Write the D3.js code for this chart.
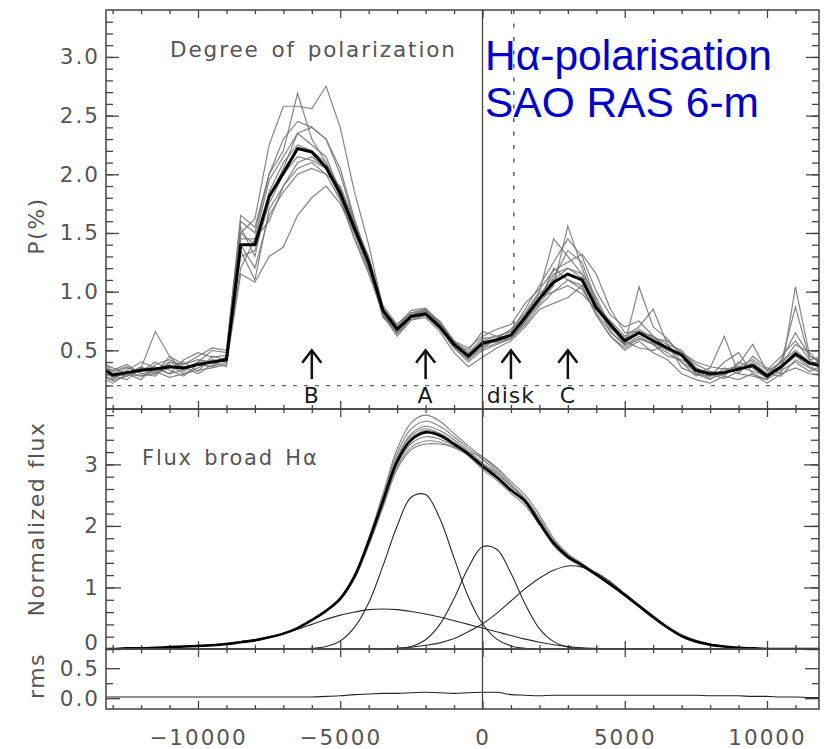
<!DOCTYPE html>
<html>
<head>
<meta charset="utf-8">
<script src="https://cdn.jsdelivr.net/npm/d3@7"></script>
<style>
  body { margin: 0; background: #fff; }
  text { font-family: "DejaVu Sans", sans-serif; }
</style>
</head>
<body>
<svg id="chart" width="824" height="749"></svg>
<script>
// velocity grid, km/s
const velocity = [-13500,-13000,-12500,-12000,-11500,-11000,-10500,-10000,-9500,-9000,
  -8500,-8000,-7500,-7000,-6500,-6000,-5500,-5000,-4500,-4000,
  -3500,-3000,-2500,-2000,-1500,-1000,-500,0,500,1000,
  1500,2000,2500,3000,3500,4000,4500,5000,5500,6000,
  6500,7000,7500,8000,8500,9000,9500,10000,10500,11000,
  11500,12000];

// degree of polarization, mean
const polMean = [0.37,0.29,0.31,0.33,0.34,0.36,0.35,0.38,0.40,0.42,
  1.40,1.40,1.81,2.01,2.22,2.19,2.06,1.84,1.54,1.25,
  0.84,0.68,0.79,0.81,0.70,0.55,0.45,0.56,0.59,0.63,
  0.78,0.94,1.08,1.15,1.10,0.86,0.72,0.58,0.65,0.58,
  0.52,0.46,0.33,0.30,0.31,0.34,0.37,0.28,0.36,0.47,
  0.39,0.36];

// individual polarization runs
const polRun1 = [0.30,0.25,0.33,0.40,0.35,0.30,0.42,0.48,0.44,0.46,
  1.50,1.62,2.25,2.58,2.58,2.56,2.75,2.40,1.85,1.40,
  0.86,0.70,0.82,0.85,0.72,0.58,0.48,0.60,0.62,0.66,
  0.85,1.05,1.25,1.45,1.30,1.00,0.80,0.70,0.75,0.62,
  0.55,0.50,0.35,0.28,0.40,0.48,0.30,0.25,0.42,0.65,
  0.45,0.40];
const polRun2 = [0.42,0.30,0.28,0.35,0.66,0.45,0.32,0.40,0.50,0.48,
  1.65,1.55,2.00,2.20,2.69,2.30,2.10,1.80,1.45,1.18,
  0.80,0.65,0.78,0.80,0.68,0.52,0.40,0.50,0.55,0.60,
  0.75,0.90,1.05,1.56,1.20,0.90,0.65,0.55,1.04,0.70,
  0.60,0.45,0.30,0.25,0.35,0.30,0.45,0.35,0.30,1.04,
  0.45,0.38];
const polRun3 = [0.35,0.33,0.38,0.30,0.28,0.40,0.38,0.45,0.52,0.50,
  1.60,1.50,2.00,2.30,2.45,2.40,2.30,2.05,1.62,1.25,
  0.82,0.66,0.80,0.84,0.75,0.58,0.42,0.52,0.60,0.68,
  0.82,1.00,1.45,1.30,1.15,0.88,0.75,0.62,0.70,0.85,
  0.55,0.40,0.28,0.32,0.30,0.38,0.55,0.32,0.40,0.87,
  0.42,0.33];
const polRun4 = [0.28,0.22,0.30,0.28,0.32,0.27,0.30,0.33,0.35,0.38,
  1.15,1.08,1.30,1.38,1.65,1.80,1.90,1.75,1.50,1.20,
  0.80,0.62,0.76,0.78,0.66,0.48,0.36,0.44,0.52,0.58,
  0.70,0.85,0.90,0.95,1.05,0.80,0.62,0.50,0.58,0.48,
  0.42,0.30,0.25,0.22,0.28,0.25,0.30,0.22,0.30,0.35,
  0.30,0.28];
const polRun5 = [0.32,0.28,0.25,0.35,0.30,0.38,0.30,0.35,0.42,0.40,
  1.35,1.10,1.70,1.90,2.10,2.15,2.05,1.80,1.50,1.22,
  0.84,0.72,0.84,0.86,0.74,0.57,0.47,0.58,0.57,0.62,
  0.80,0.98,1.10,1.20,1.15,0.95,0.70,0.55,0.62,0.55,
  0.48,0.40,0.32,0.26,0.30,0.35,0.38,0.30,0.36,0.48,
  0.38,0.42];
const polRun6 = [0.40,0.35,0.30,0.25,0.38,0.42,0.36,0.30,0.38,0.44,
  1.45,1.45,1.95,2.15,2.35,2.40,2.30,2.00,1.60,1.28,
  0.86,0.68,0.80,0.83,0.72,0.55,0.46,0.54,0.58,0.64,
  0.76,0.92,1.12,1.35,1.25,0.92,0.68,0.60,0.68,0.60,
  0.58,0.48,0.38,0.32,0.28,0.40,0.35,0.26,0.38,0.55,
  0.48,0.35];
const polRun7 = [0.25,0.30,0.35,0.32,0.40,0.33,0.28,0.38,0.36,0.45,
  1.30,1.35,1.75,2.00,2.15,2.12,2.05,1.82,1.55,1.25,
  0.78,0.66,0.78,0.80,0.70,0.53,0.44,0.55,0.58,0.60,
  0.74,0.92,1.20,1.10,1.05,0.80,0.62,0.52,0.60,0.55,
  0.45,0.42,0.35,0.30,0.26,0.32,0.40,0.30,0.28,0.42,
  0.35,0.30];
const polRun8 = [0.38,0.26,0.32,0.28,0.30,0.35,0.40,0.32,0.45,0.42,
  1.20,1.45,1.60,1.90,2.05,2.10,2.00,1.78,1.45,1.15,
  0.82,0.70,0.82,0.84,0.73,0.56,0.50,0.66,0.62,0.60,
  0.72,0.88,1.00,1.05,0.98,0.85,0.70,0.58,0.52,0.50,
  0.55,0.35,0.30,0.35,0.62,0.30,0.28,0.25,0.33,0.40,
  0.32,0.38];
const polRun9 = [0.30,0.24,0.28,0.34,0.36,0.30,0.34,0.40,0.40,0.36,
  1.55,1.30,1.85,2.10,2.25,2.20,2.10,1.88,1.58,1.30,
  0.88,0.72,0.82,0.82,0.72,0.58,0.52,0.62,0.68,0.72,
  0.90,1.02,1.18,1.25,1.32,1.15,0.85,0.65,0.66,0.62,
  0.50,0.48,0.40,0.36,0.34,0.36,0.42,0.33,0.45,0.58,
  0.42,0.45];
const polRun10 = [0.45,0.32,0.36,0.30,0.33,0.40,0.35,0.38,0.36,0.40,
  1.40,1.20,1.65,1.85,2.00,2.05,2.00,1.90,1.60,1.25,
  0.80,0.64,0.76,0.80,0.70,0.54,0.44,0.52,0.56,0.60,
  0.78,0.95,1.00,1.10,1.02,0.82,0.66,0.54,0.60,0.56,
  0.50,0.45,0.30,0.28,0.32,0.36,0.32,0.28,0.35,0.45,
  0.36,0.32];
const polRun11 = [0.34,0.28,0.30,0.36,0.30,0.45,0.38,0.42,0.40,0.44,
  1.50,1.40,1.80,2.05,2.35,2.25,2.15,1.85,1.50,1.20,
  0.80,0.67,0.80,0.83,0.70,0.52,0.42,0.58,0.62,0.66,
  0.80,0.95,1.15,1.20,1.12,0.90,0.72,0.60,0.65,0.62,
  0.52,0.46,0.34,0.30,0.32,0.34,0.38,0.30,0.40,0.50,
  0.40,0.36];

// normalized broad H-alpha flux, mean and individual runs
const fluxMean = [0,0,0.01,0.01,0.02,0.03,0.04,0.05,0.06,0.08,
  0.11,0.14,0.19,0.25,0.34,0.47,0.62,0.82,1.18,1.75,
  2.40,3.05,3.40,3.52,3.47,3.33,3.17,2.97,2.79,2.58,
  2.40,2.05,1.72,1.50,1.36,1.21,1.05,0.88,0.70,0.52,
  0.35,0.21,0.12,0.07,0.04,0.02,0.01,0,0,0,
  0,0];
const fluxRun1 = [0,0,0.01,0.01,0.02,0.03,0.04,0.05,0.06,0.08,
  0.11,0.14,0.19,0.25,0.34,0.47,0.62,0.83,1.20,1.80,
  2.52,3.25,3.68,3.80,3.70,3.50,3.30,3.12,2.92,2.68,
  2.45,2.12,1.76,1.53,1.38,1.22,1.06,0.89,0.71,0.53,
  0.36,0.22,0.13,0.07,0.04,0.02,0.01,0,0,0,
  0,0];
const fluxRun2 = [0,0,0.01,0.01,0.02,0.03,0.04,0.05,0.06,0.08,
  0.11,0.14,0.19,0.25,0.34,0.47,0.62,0.82,1.19,1.78,
  2.48,3.18,3.58,3.70,3.62,3.45,3.26,3.08,2.88,2.65,
  2.43,2.10,1.74,1.52,1.37,1.21,1.05,0.88,0.70,0.52,
  0.35,0.21,0.12,0.07,0.04,0.02,0.01,0,0,0,
  0,0];
const fluxRun3 = [0,0,0.01,0.01,0.02,0.03,0.04,0.05,0.06,0.08,
  0.11,0.14,0.19,0.25,0.34,0.47,0.62,0.82,1.18,1.76,
  2.44,3.12,3.50,3.62,3.55,3.40,3.22,3.02,2.82,2.60,
  2.40,2.07,1.72,1.50,1.36,1.20,1.05,0.88,0.70,0.52,
  0.35,0.21,0.12,0.07,0.04,0.02,0.01,0,0,0,
  0,0];
const fluxRun4 = [0,0,0.01,0.01,0.02,0.03,0.04,0.05,0.06,0.08,
  0.11,0.14,0.19,0.25,0.34,0.47,0.62,0.81,1.17,1.74,
  2.40,3.06,3.43,3.55,3.50,3.36,3.20,3.00,2.80,2.58,
  2.38,2.06,1.71,1.50,1.36,1.20,1.04,0.87,0.69,0.51,
  0.35,0.21,0.12,0.07,0.04,0.02,0.01,0,0,0,
  0,0];
const fluxRun5 = [0,0,0.01,0.01,0.02,0.03,0.04,0.05,0.06,0.08,
  0.11,0.14,0.19,0.25,0.34,0.47,0.62,0.81,1.16,1.72,
  2.36,3.00,3.34,3.45,3.41,3.30,3.18,3.02,2.85,2.64,
  2.44,2.12,1.76,1.53,1.38,1.22,1.06,0.89,0.71,0.53,
  0.36,0.22,0.13,0.07,0.04,0.02,0.01,0,0,0,
  0,0];
const fluxRun6 = [0,0,0.01,0.01,0.02,0.03,0.04,0.05,0.06,0.08,
  0.11,0.14,0.19,0.25,0.34,0.47,0.62,0.80,1.15,1.70,
  2.34,2.96,3.28,3.38,3.36,3.27,3.15,2.98,2.80,2.60,
  2.40,2.08,1.73,1.51,1.37,1.21,1.05,0.88,0.70,0.52,
  0.35,0.21,0.12,0.07,0.04,0.02,0.01,0,0,0,
  0,0];
const fluxRun7 = [0,0,0.01,0.01,0.02,0.03,0.04,0.05,0.06,0.08,
  0.11,0.14,0.19,0.25,0.34,0.47,0.62,0.80,1.14,1.68,
  2.30,2.92,3.24,3.33,3.33,3.28,3.20,3.12,2.95,2.72,
  2.50,2.18,1.80,1.55,1.39,1.23,1.07,0.90,0.72,0.54,
  0.37,0.23,0.13,0.07,0.04,0.02,0.01,0,0,0,
  0,0];
const fluxRun8 = [0,0,0.01,0.01,0.02,0.03,0.04,0.05,0.06,0.08,
  0.11,0.14,0.19,0.25,0.34,0.47,0.62,0.82,1.19,1.77,
  2.43,3.10,3.47,3.58,3.50,3.33,3.14,2.92,2.74,2.53,
  2.33,2.02,1.68,1.47,1.34,1.19,1.03,0.86,0.68,0.50,
  0.34,0.20,0.11,0.07,0.04,0.02,0.01,0,0,0,
  0,0];

// fitted components: B (broad), A, disk, C
const compB = [0,0,0.01,0.01,0.02,0.03,0.04,0.05,0.07,0.09,
  0.12,0.15,0.19,0.25,0.32,0.40,0.48,0.55,0.60,0.64,
  0.65,0.64,0.61,0.57,0.52,0.46,0.40,0.34,0.28,0.22,
  0.16,0.11,0.07,0.04,0.02,0.01,0,0,0,0,
  0,0,0,0,0,0,0,0,0,0,
  0,0];
const compA = [0,0,0,0,0,0,0,0,0,0,
  0,0,0,0,0,0.01,0.04,0.13,0.35,0.75,
  1.35,2.00,2.47,2.51,2.12,1.48,0.85,0.41,0.16,0.05,
  0.01,0,0,0,0,0,0,0,0,0,
  0,0,0,0,0,0,0,0,0,0,
  0,0];
const compDisk = [0,0,0,0,0,0,0,0,0,0,
  0,0,0,0,0,0,0,0,0,0,
  0,0.01,0.04,0.15,0.40,0.82,1.32,1.66,1.62,1.23,
  0.73,0.33,0.12,0.03,0.01,0,0,0,0,0,
  0,0,0,0,0,0,0,0,0,0,
  0,0];
const compC = [0,0,0,0,0,0,0,0,0,0,
  0,0,0,0,0,0,0,0,0,0,
  0,0.01,0.03,0.06,0.10,0.17,0.28,0.41,0.58,0.78,
  0.98,1.15,1.28,1.35,1.33,1.24,1.09,0.90,0.70,0.51,
  0.36,0.23,0.14,0.08,0.04,0.02,0.01,0,0,0,
  0,0];

// rms of the flux runs
const rms = [0.02,0.02,0.02,0.02,0.02,0.02,0.02,0.02,0.02,0.02,
  0.02,0.02,0.02,0.02,0.02,0.02,0.03,0.04,0.06,0.07,
  0.08,0.08,0.09,0.10,0.09,0.08,0.09,0.10,0.10,0.06,
  0.05,0.04,0.05,0.05,0.05,0.05,0.05,0.05,0.05,0.05,
  0.05,0.05,0.05,0.04,0.04,0.04,0.03,0.03,0.02,0.02,
  0.01,0.01];

// feature markers
const markerVel = [-6000, -2000, 1000, 3000];
const markerLabels = ["B", "A", "disk", "C"];
const polFloor = 0.2;
const diskVel = 1100;

const xMajor = [-10000, -5000, 0, 5000, 10000];
const polTicks = [0.5, 1.0, 1.5, 2.0, 2.5, 3.0];
const fluxTicks = [0, 1, 2, 3];
const rmsTicks = [0.0, 0.5];

const polRuns = [polRun1, polRun2, polRun3, polRun4, polRun5, polRun6,
  polRun7, polRun8, polRun9, polRun10, polRun11];
const fluxRuns = [fluxRun1, fluxRun2, fluxRun3, fluxRun4, fluxRun5, fluxRun6, fluxRun7, fluxRun8];
const components = [compB, compA, compDisk, compC];

const svg = d3.select("#chart");
const left = 106, right = 819;
const axisColor = "#444", textColor = "#555";

let x = d3.scaleLinear().domain([-13234, 11828]).range([left, right]);
let yPol = d3.scaleLinear().domain([0, 3.4]).range([409, 10]);
let yFlux = d3.scaleLinear().domain([0, 3.9]).range([649, 409]);
let yRms = d3.scaleLinear().domain([-0.18, 0.82]).range([709, 649]);

const xMinor = d3.range(-13000, 12000, 1000).filter(v => v % 5000 !== 0);

function styleTicks(g) {
  g.select(".domain").remove();
  g.selectAll("line").attr("stroke", axisColor).attr("stroke-width", 1.3);
}

function styleLabels(g) {
  g.selectAll("text")
    .style("font-family", "'DejaVu Sans', sans-serif")
    .style("font-size", "21.5px")
    .style("letter-spacing", "2px")
    .attr("fill", textColor);
}

function panel(id, y, top, bottom, yMajor, yMinor, yMajLen, yMinLen) {
  svg.append("clipPath").attr("id", id)
    .append("rect").attr("x", left).attr("y", top)
    .attr("width", right - left).attr("height", bottom - top);

  let g = svg.append("g");
  // x ticks, inward on top and bottom edges
  g.append("g").attr("transform", "translate(0," + bottom + ")")
    .call(d3.axisBottom(x).tickValues(xMinor).tickSize(-4).tickFormat("")).call(styleTicks);
  g.append("g").attr("transform", "translate(0," + bottom + ")")
    .call(d3.axisBottom(x).tickValues(xMajor).tickSize(-8).tickFormat("")).call(styleTicks);
  g.append("g").attr("transform", "translate(0," + top + ")")
    .call(d3.axisTop(x).tickValues(xMinor).tickSize(-4).tickFormat("")).call(styleTicks);
  g.append("g").attr("transform", "translate(0," + top + ")")
    .call(d3.axisTop(x).tickValues(xMajor).tickSize(-8).tickFormat("")).call(styleTicks);
  // y ticks, inward on left and right edges
  [[d3.axisLeft, left], [d3.axisRight, right]].forEach(([ax, pos]) => {
    g.append("g").attr("transform", "translate(" + pos + ",0)")
      .call(ax(y).tickValues(yMinor).tickSize(-yMinLen).tickFormat("")).call(styleTicks);
    g.append("g").attr("transform", "translate(" + pos + ",0)")
      .call(ax(y).tickValues(yMajor).tickSize(-yMajLen).tickFormat("")).call(styleTicks);
  });
  return g;
}

function frame(top, bottom) {
  svg.append("rect").attr("x", left).attr("y", top)
    .attr("width", right - left).attr("height", bottom - top)
    .attr("fill", "none").attr("stroke", axisColor).attr("stroke-width", 1.5);
}

// ---------- polarization panel ----------
panel("clipPol", yPol, 10, 409,
  polTicks, d3.range(0.1, 3.4, 0.1).map(v => +v.toFixed(1)), 13, 7);

const polLine = d3.line().x((d, i) => x(velocity[i])).y(d => yPol(d));
const gPol = svg.append("g").attr("clip-path", "url(#clipPol)");

gPol.append("line")
  .attr("x1", left).attr("x2", right)
  .attr("y1", yPol(polFloor)).attr("y2", yPol(polFloor))
  .attr("stroke", "#666").attr("stroke-width", 1.3).attr("stroke-dasharray", "4,7");

gPol.append("line")
  .attr("x1", x(diskVel)).attr("x2", x(diskVel))
  .attr("y1", yPol(3.4)).attr("y2", yPol(0.62))
  .attr("stroke", "#666").attr("stroke-width", 1.6).attr("stroke-dasharray", "4,9.5");

gPol.selectAll(".run").data(polRuns).enter().append("path")
  .attr("d", polLine).attr("fill", "none")
  .attr("stroke", "#777").attr("stroke-opacity", 0.9).attr("stroke-width", 1.2);

gPol.append("path").attr("d", polLine(polMean)).attr("fill", "none")
  .attr("stroke", "#000").attr("stroke-width", 3).attr("stroke-linejoin", "round");

// arrows and labels
const arrows = svg.append("g").attr("stroke", "#111").attr("stroke-width", 2.5).attr("fill", "none");
markerVel.forEach(v => {
  let xp = x(v), tip = yPol(0.5), tail = yPol(0.255);
  arrows.append("line").attr("x1", xp).attr("x2", xp).attr("y1", tip).attr("y2", tail);
  arrows.append("path").attr("d", "M" + (xp - 9.5) + "," + (tip + 12.5) + "L" + xp + "," + tip + "L" + (xp + 9.5) + "," + (tip + 12.5));
});
svg.selectAll(".mlabel").data(markerLabels).enter().append("text")
  .attr("x", (d, i) => x(markerVel[i]))
  .attr("y", yPol(0.05))
  .attr("text-anchor", "middle")
  .attr("fill", "#1a1a1a")
  .style("font-size", "22px")
  .style("letter-spacing", "1px")
  .text(d => d);

svg.append("text").attr("x", 170).attr("y", 57)
  .attr("fill", textColor).style("font-size", "21.5px")
  .style("letter-spacing", "1.9px").style("word-spacing", "3px")
  .text("Degree of polarization");

// ---------- flux panel ----------
panel("clipFlux", yFlux, 409, 649,
  fluxTicks, d3.range(0, 3.9, 0.2).map(v => +v.toFixed(1)), 15, 8);

const fluxLine = d3.line().curve(d3.curveCatmullRom.alpha(0.5))
  .x((d, i) => x(velocity[i])).y(d => yFlux(d));
const gFlux = svg.append("g").attr("clip-path", "url(#clipFlux)");

gFlux.selectAll(".comp").data(components).enter().append("path")
  .attr("d", fluxLine).attr("fill", "none")
  .attr("stroke", "#2a2a2a").attr("stroke-width", 1.1);

gFlux.selectAll(".frun").data(fluxRuns).enter().append("path")
  .attr("d", fluxLine).attr("fill", "none")
  .attr("stroke", "#808080").attr("stroke-width", 1.1);

gFlux.append("path").attr("d", fluxLine(fluxMean)).attr("fill", "none")
  .attr("stroke", "#000").attr("stroke-width", 2.6);

svg.append("text").attr("x", 142).attr("y", 465)
  .attr("fill", textColor).style("font-size", "21px")
  .style("letter-spacing", "1.8px").style("word-spacing", "3px")
  .text("Flux broad Hα");

// ---------- rms panel ----------
panel("clipRms", yRms, 649, 709, rmsTicks, [0.25], 14, 7);

const rmsLine = d3.line().curve(d3.curveMonotoneX)
  .x((d, i) => x(velocity[i])).y(d => yRms(d));
svg.append("g").attr("clip-path", "url(#clipRms)")
  .append("path").attr("d", rmsLine(rms)).attr("fill", "none")
  .attr("stroke", "#222").attr("stroke-width", 1.1);

// zero-velocity line through all panels
svg.append("line")
  .attr("x1", x(0)).attr("x2", x(0)).attr("y1", yPol(3.4)).attr("y2", yRms(-0.18))
  .attr("stroke", "#444").attr("stroke-width", 1.3);

frame(10, 409);
frame(409, 649);
frame(649, 709);

// ---------- tick labels ----------
svg.append("g").attr("transform", "translate(" + left + ",0)")
  .call(d3.axisLeft(yPol).tickValues(polTicks).tickFormat(d3.format(".1f")).tickSize(0).tickPadding(6))
  .call(g => g.select(".domain").remove()).call(styleLabels);

svg.append("g").attr("transform", "translate(" + left + ",0)")
  .call(d3.axisLeft(yFlux).tickValues(fluxTicks).tickFormat(d3.format("d")).tickSize(0).tickPadding(6))
  .call(g => g.select(".domain").remove()).call(styleLabels)
  .call(g => g.selectAll("text").filter(d => d === 0).attr("dy", "0.04em"));

svg.append("g").attr("transform", "translate(" + left + ",0)")
  .call(d3.axisLeft(yRms).tickValues(rmsTicks).tickFormat(d3.format(".1f")).tickSize(0).tickPadding(6))
  .call(g => g.select(".domain").remove()).call(styleLabels);

svg.append("g").attr("transform", "translate(0,709)")
  .call(d3.axisBottom(x).tickValues(xMajor).tickFormat(d3.format("d")).tickSize(0).tickPadding(21))
  .call(g => g.select(".domain").remove()).call(styleLabels);

// axis titles
[["P(%)", 226], ["Normalized flux", 519], ["rms", 676]].forEach(([t, cy]) => {
  svg.append("text")
    .attr("transform", "translate(44," + cy + ") rotate(-90)")
    .attr("text-anchor", "middle")
    .attr("fill", textColor)
    .style("font-size", "22px")
    .style("letter-spacing", "1.5px")
    .text(t);
});

// annotation
svg.append("text").attr("x", 485).attr("y", 70)
  .attr("fill", "#0000c8").style("font-family", "'Liberation Sans', Arial, sans-serif")
  .style("font-size", "42.5px").text("Hα-polarisation");
svg.append("text").attr("x", 485).attr("y", 117)
  .attr("fill", "#0000c8").style("font-family", "'Liberation Sans', Arial, sans-serif")
  .style("font-size", "42.5px").text("SAO RAS 6-m");
</script>
</body>
</html>
